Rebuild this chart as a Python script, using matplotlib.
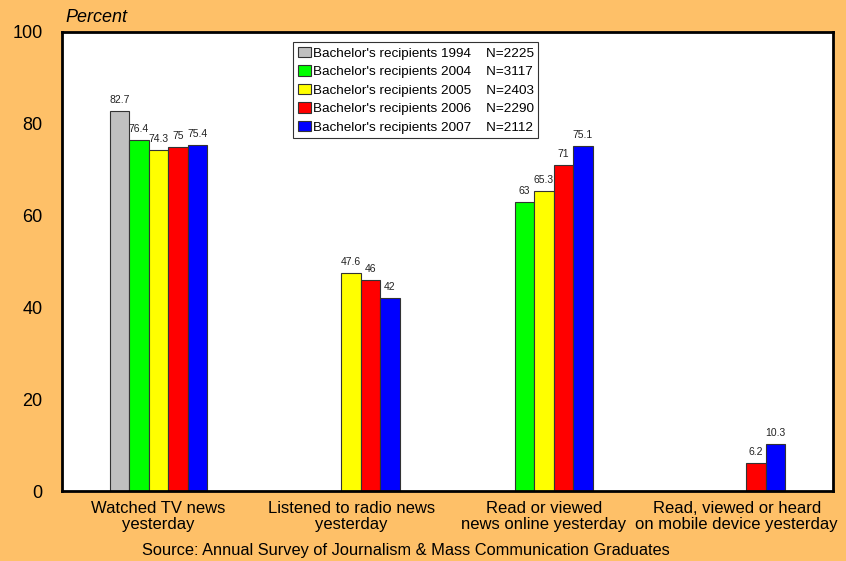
import matplotlib
matplotlib.use("Agg")
import matplotlib.pyplot as plt
import numpy as np

plt.rcParams['font.family'] = ['Liberation Sans', 'DejaVu Sans']

categories = ["Watched TV news\nyesterday",
              "Listened to radio news\nyesterday",
              "Read or viewed\nnews online yesterday",
              "Read, viewed or heard\non mobile device yesterday"]
series_names = ["Bachelor's recipients 1994    N=2225",
                "Bachelor's recipients 2004    N=3117",
                "Bachelor's recipients 2005    N=2403",
                "Bachelor's recipients 2006    N=2290",
                "Bachelor's recipients 2007    N=2112"]
colors = ["#C0C0C0", "#00FF00", "#FFFF00", "#FF0000", "#0000FF"]
# None = no data
v1994 = [82.7, None, None, None]
v2004 = [76.4, None, 63, None]
v2005 = [74.3, 47.6, 65.3, None]
v2006 = [75, 46, 71, 6.2]
v2007 = [75.4, 42, 75.1, 10.3]
series = [v1994, v2004, v2005, v2006, v2007]
yticks = [0, 20, 40, 60, 80, 100]

bg = "#FEC068"
fig = plt.figure(figsize=(8.46, 5.61), dpi=100, facecolor=bg)
ax = fig.add_axes([62/846, 1-491/561, 771/846, 459/561])
ax.set_facecolor("white")

x = np.arange(len(categories))
w = 0.101
for i, (vals, c, name) in enumerate(zip(series, colors, series_names)):
    xs = [xx + (i-2)*w for xx, v in zip(x, vals) if v is not None]
    ys = [v for v in vals if v is not None]
    ax.bar(xs, ys, width=w, color=c, edgecolor="#333333", linewidth=0.8, label=name)
    for xx, v in zip(xs, ys):
        ax.text(xx, v + 1.3, f"{v:g}", ha="center", va="bottom", fontsize=7.5, color="#222222")

ax.set_xlim(-0.5, 3.5)
ax.set_ylim(0, 100)
ax.set_yticks(yticks)
ax.set_yticklabels([str(t) for t in yticks], fontsize=13)
ax.tick_params(axis='y', length=0, pad=14)
ax.set_xticks(x)
ax.set_xticklabels(categories, fontsize=12, linespacing=1.08)
ax.tick_params(axis='x', length=0, pad=7)
for s in ax.spines.values():
    s.set_linewidth(2)
    s.set_color("black")

ax.text(0.004, 1.014, "Percent", transform=ax.transAxes, fontsize=13, style="italic", ha="left", va="bottom")
fig.text(406/846, 1-551/561, "Source: Annual Survey of Journalism & Mass Communication Graduates",
         fontsize=11.8, ha="center", va="center")

leg = ax.legend(loc="upper left", bbox_to_anchor=(0.2996, 0.978), fontsize=9.7, frameon=True,
                fancybox=False, edgecolor="black", handlelength=1.0, handleheight=0.8,
                handletextpad=0.1, borderpad=0.35, labelspacing=0.42, borderaxespad=0)
leg.get_frame().set_linewidth(0.8)

fig.savefig("out.png", dpi=100, facecolor=bg)
